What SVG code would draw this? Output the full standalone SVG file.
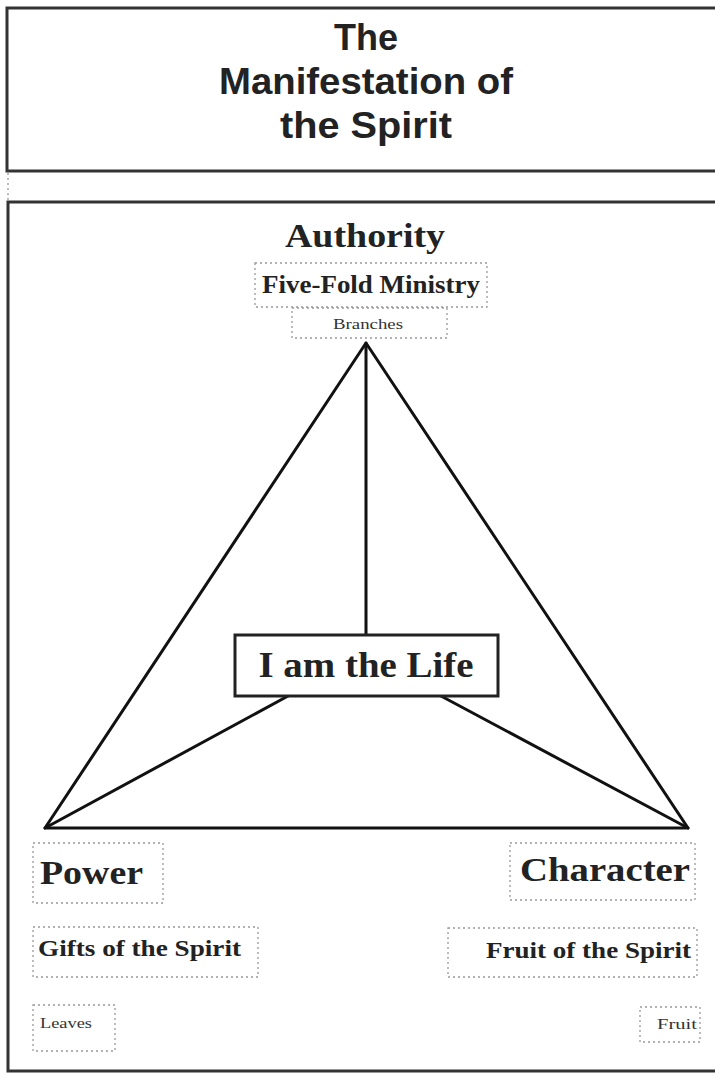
<svg xmlns="http://www.w3.org/2000/svg" width="715" height="1074" viewBox="0 0 715 1074">
<style>
.frame{fill:#fff;stroke:#333;stroke-width:3}
.dot{fill:none;stroke:#999;stroke-width:1.3;stroke-dasharray:2 3}
.conn{stroke:#111;stroke-width:3;fill:none;stroke-linecap:round}
.title{font-family:"Liberation Sans",Arial,sans-serif;font-weight:bold;font-size:37px;fill:#222;text-anchor:middle}
.serif{font-family:"Liberation Serif","Times New Roman",serif;font-weight:bold;fill:#222}
.small{font-family:"Liberation Serif","Times New Roman",serif;font-weight:normal;fill:#333}
</style>
<rect width="715" height="1074" fill="#fff"/>
<g id="title">
<rect class="frame" x="7" y="8" width="720" height="163"/>
<text class="title" x="366" y="50" textLength="64" lengthAdjust="spacingAndGlyphs">The</text>
<text class="title" x="366" y="94" textLength="294" lengthAdjust="spacingAndGlyphs">Manifestation of</text>
<text class="title" x="366" y="138" textLength="172" lengthAdjust="spacingAndGlyphs">the Spirit</text>
</g>
<line x1="8" y1="173" x2="8" y2="201" class="dot" stroke="#ccc"/>
<g id="frame">
<rect class="frame" x="8" y="202" width="720" height="869"/>
</g>
<g id="connectors">
<polygon class="conn" points="366,343 45,828 688,828" stroke-linejoin="round"/>
<line class="conn" x1="366" y1="343" x2="366" y2="635"/>
<line class="conn" x1="288" y1="696" x2="45" y2="828"/>
<line class="conn" x1="441" y1="696" x2="688" y2="828"/>
</g>
<g id="authority">
<text class="serif" x="365" y="247" font-size="33" text-anchor="middle" textLength="160" lengthAdjust="spacingAndGlyphs">Authority</text>
</g>
<g id="five-fold">
<rect class="dot" x="255" y="263" width="232" height="44"/>
<text class="serif" x="371" y="293" font-size="25" text-anchor="middle" textLength="218" lengthAdjust="spacingAndGlyphs">Five-Fold Ministry</text>
</g>
<g id="branches">
<rect class="dot" x="292" y="308" width="155" height="30"/>
<text class="small" x="368" y="329" font-size="15" text-anchor="middle" textLength="70" lengthAdjust="spacingAndGlyphs">Branches</text>
</g>
<g id="life">
<rect x="235" y="635" width="263" height="61" fill="#fff" stroke="#222" stroke-width="3"/>
<text class="serif" x="366" y="677" font-size="35" text-anchor="middle" textLength="215" lengthAdjust="spacingAndGlyphs">I am the Life</text>
</g>
<g id="power">
<rect class="dot" x="33" y="843" width="130" height="60"/>
<text class="serif" x="40" y="884" font-size="34" textLength="103" lengthAdjust="spacingAndGlyphs">Power</text>
</g>
<g id="gifts">
<rect class="dot" x="33" y="927" width="225" height="50"/>
<text class="serif" x="38" y="956" font-size="24" textLength="203" lengthAdjust="spacingAndGlyphs">Gifts of the Spirit</text>
</g>
<g id="leaves">
<rect class="dot" x="33" y="1005" width="82" height="46"/>
<text class="small" x="40" y="1028" font-size="15" textLength="52" lengthAdjust="spacingAndGlyphs">Leaves</text>
</g>
<g id="character">
<rect class="dot" x="510" y="843" width="185" height="57"/>
<text class="serif" x="520" y="881" font-size="34" textLength="170" lengthAdjust="spacingAndGlyphs">Character</text>
</g>
<g id="fruit-spirit">
<rect class="dot" x="448" y="928" width="249" height="49"/>
<text class="serif" x="486" y="958" font-size="24" textLength="205" lengthAdjust="spacingAndGlyphs">Fruit of the Spirit</text>
</g>
<g id="fruit">
<rect class="dot" x="640" y="1007" width="60" height="35"/>
<text class="small" x="697" y="1029" font-size="15" text-anchor="end" textLength="40" lengthAdjust="spacingAndGlyphs">Fruit</text>
</g>
</svg>
